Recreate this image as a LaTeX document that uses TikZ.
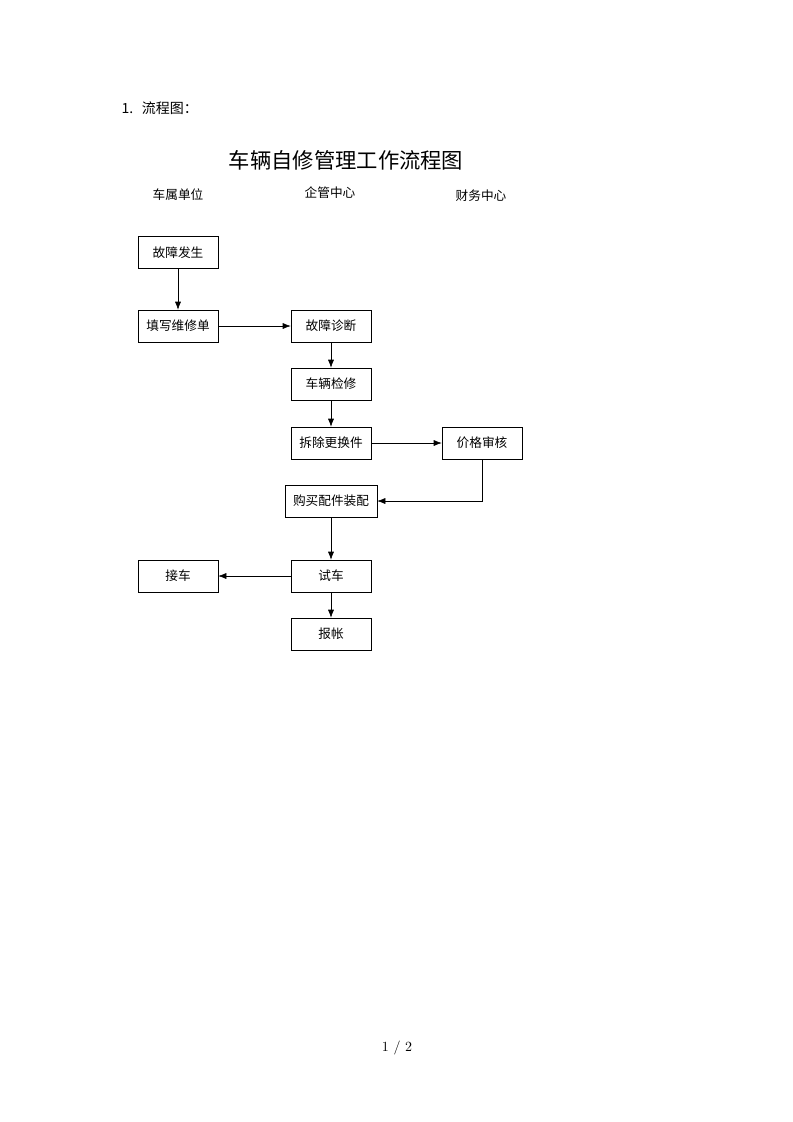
\documentclass[tikz,border=0pt]{standalone}
\usepackage{fontspec}
\newfontfamily\cjk{Noto Sans CJK SC}
\usetikzlibrary{arrows.meta}
\tikzstyle{stepbox}=[draw, thin, minimum width=60pt, minimum height=24pt, inner sep=2pt, font=\cjk\fontsize{9.5}{11}\selectfont]
\tikzstyle{flow}=[thin, -{Latex[length=6pt,width=4.5pt]}]

\begin{document}
\begin{tikzpicture}[x=0.75pt, y=-0.75pt]
	\useasboundingbox (0,0) rectangle (793,1122);
	\node[anchor=west, font=\cjk\fontsize{10.5}{12}\selectfont] (head) at (117,108) {1.\hspace{0.6em}流程图：};
	\node[font=\cjk\fontsize{16}{18}\selectfont] (title) at (346,160) {车辆自修管理工作流程图};
	\node[font=\cjk\fontsize{9.5}{11}\selectfont] (colA) at (178,195) {车属单位};
	\node[font=\cjk\fontsize{9.5}{11}\selectfont] (colB) at (330,193) {企管中心};
	\node[font=\cjk\fontsize{9.5}{11}\selectfont] (colC) at (481,196) {财务中心};
	% boxes
	\node[stepbox] (fault) at (178,252.5) {故障发生};
	\node[stepbox] (form) at (178,326) {填写维修单};
	\node[stepbox] (diag) at (331,326) {故障诊断};
	\node[stepbox] (repair) at (331,384) {车辆检修};
	\node[stepbox] (parts) at (331,443) {拆除更换件};
	\node[stepbox] (price) at (482,443) {价格审核};
	\node[stepbox, minimum width=69pt] (buy) at (331,501) {购买配件装配};
	\node[stepbox] (pickup) at (178,576) {接车};
	\node[stepbox] (test) at (331,576) {试车};
	\node[stepbox] (bill) at (331,634) {报帐};
	% arrows
	\draw[flow] (fault) -- (form);
	\draw[flow] (form) -- (diag);
	\draw[flow] (diag) -- (repair);
	\draw[flow] (repair) -- (parts);
	\draw[flow] (parts) -- (price);
	\draw[flow] (price.south) |- (buy.east);
	\draw[flow] (buy) -- (test);
	\draw[flow] (test) -- (pickup);
	\draw[flow] (test) -- (bill);
	\node[font=\fontsize{10.5}{12}\selectfont] (page) at (397,1048) {1 / 2};
\end{tikzpicture}
\end{document}
